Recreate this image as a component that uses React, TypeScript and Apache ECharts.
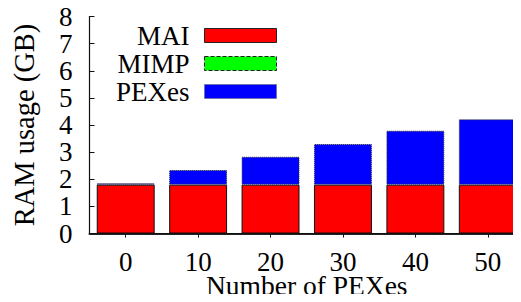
import React, { useEffect, useRef } from "react";
import * as echarts from "echarts";

const categories = ["0", "10", "20", "30", "40", "50"];
const maiValues = [1.8, 1.8, 1.8, 1.8, 1.8, 1.8];
const mimpValues = [0, 0, 0, 0, 0, 0];
const pexesValues = [0.05, 0.54, 1.03, 1.5, 1.99, 2.41];
const yTicks = { min: 0, max: 8, interval: 1 };

const FONT = "'Liberation Serif', 'Times New Roman', Times, serif";

export default function App() {
  const ref = useRef<HTMLDivElement>(null);
  useEffect(() => {
    if (!ref.current) return;
    const chart = echarts.init(ref.current, null, { renderer: "svg" });
    const axisLine = { show: true, lineStyle: { color: "#111", width: 1.2 } };
    chart.setOption({
      animation: false,
      backgroundColor: "#fff",
      grid: { left: 89.5, right: -3, top: 16.5, bottom: 68.5, containLabel: false, outerBoundsMode: "none" },
      legend: {
        orient: "vertical",
        right: 244,
        top: 22,
        padding: 0,
        align: "right",
        itemWidth: 72,
        itemHeight: 14,
        itemGap: 1,
        selectedMode: false,
        textStyle: {
          fontFamily: FONT,
          fontSize: 27,
          color: "#000",
          lineHeight: 27,
          padding: [0, 10, 0, 0],
        },
        data: [
          { name: "MAI", icon: "rect", itemStyle: { color: "#ff0000", borderColor: "#222", borderWidth: 1 } },
          { name: "MIMP", icon: "rect", itemStyle: { color: "#00ff00", borderColor: "#222", borderWidth: 1, borderType: "dashed" } },
          { name: "PEXes", icon: "rect", itemStyle: { color: "#0000ff", borderColor: "#666", borderWidth: 1, borderType: "dotted" } },
        ],
      },
      xAxis: [
        {
          type: "category",
          data: categories,
          position: "bottom",
          axisLine: { show: true, lineStyle: { color: "#222", width: 2 } },
          axisTick: { show: false },
          axisLabel: { fontFamily: FONT, fontSize: 27, color: "#000", margin: 18.5, lineHeight: 20 },
          name: "Number of PEXes",
          nameLocation: "middle",
          nameGap: 41,
          nameMoveOverlap: false,
          nameTextStyle: { fontFamily: FONT, fontSize: 27.5, color: "#000", lineHeight: 22 },
        },
        {
          type: "category",
          data: categories,
          position: "top",
          axisLine,
          axisTick: { show: true, inside: true, length: 4, alignWithLabel: true, lineStyle: { color: "#111" } },
          axisLabel: { show: false },
        },
      ],
      yAxis: [
        {
          type: "value",
          min: yTicks.min,
          max: yTicks.max,
          interval: yTicks.interval,
          position: "left",
          axisLine,
          axisTick: { show: true, inside: true, length: 5, lineStyle: { color: "#111" } },
          splitLine: { show: false },
          axisLabel: {
            fontFamily: FONT,
            fontSize: 27,
            color: "#000",
            margin: 17,
            lineHeight: 20,
            padding: [7, 0, 0, 0],
            showMinLabel: true,
            showMaxLabel: true,
            hideOverlap: false,
          },
          name: "RAM usage (GB)",
          nameLocation: "middle",
          nameGap: 51,
          nameMoveOverlap: false,
          nameTextStyle: { fontFamily: FONT, fontSize: 28.5, color: "#000" },
        },
        {
          type: "value",
          min: yTicks.min,
          max: yTicks.max,
          interval: yTicks.interval,
          position: "right",
          axisLine,
          axisTick: { show: true, inside: true, length: 5, lineStyle: { color: "#111" } },
          splitLine: { show: false },
          axisLabel: { show: false },
        },
      ],
      series: [
        {
          name: "MAI",
          type: "bar",
          stack: "ram",
          data: maiValues,
          barWidth: "80%",
          itemStyle: { color: "#ff0000", borderColor: "#111", borderWidth: 1 },
        },
        {
          name: "MIMP",
          type: "bar",
          stack: "ram",
          data: mimpValues,
          barWidth: "80%",
          itemStyle: { color: "#00ff00", borderColor: "#111", borderWidth: 0, borderType: "dashed" },
        },
        {
          name: "PEXes",
          type: "bar",
          stack: "ram",
          data: pexesValues,
          barWidth: "80%",
          itemStyle: { color: "#0000ff", borderColor: "#333", borderWidth: 1, borderType: "dotted" },
        },
      ],
    });
    return () => chart.dispose();
  }, []);
  return <div ref={ref} style={{ width: 521, height: 302, margin: -8 }} />;
}
